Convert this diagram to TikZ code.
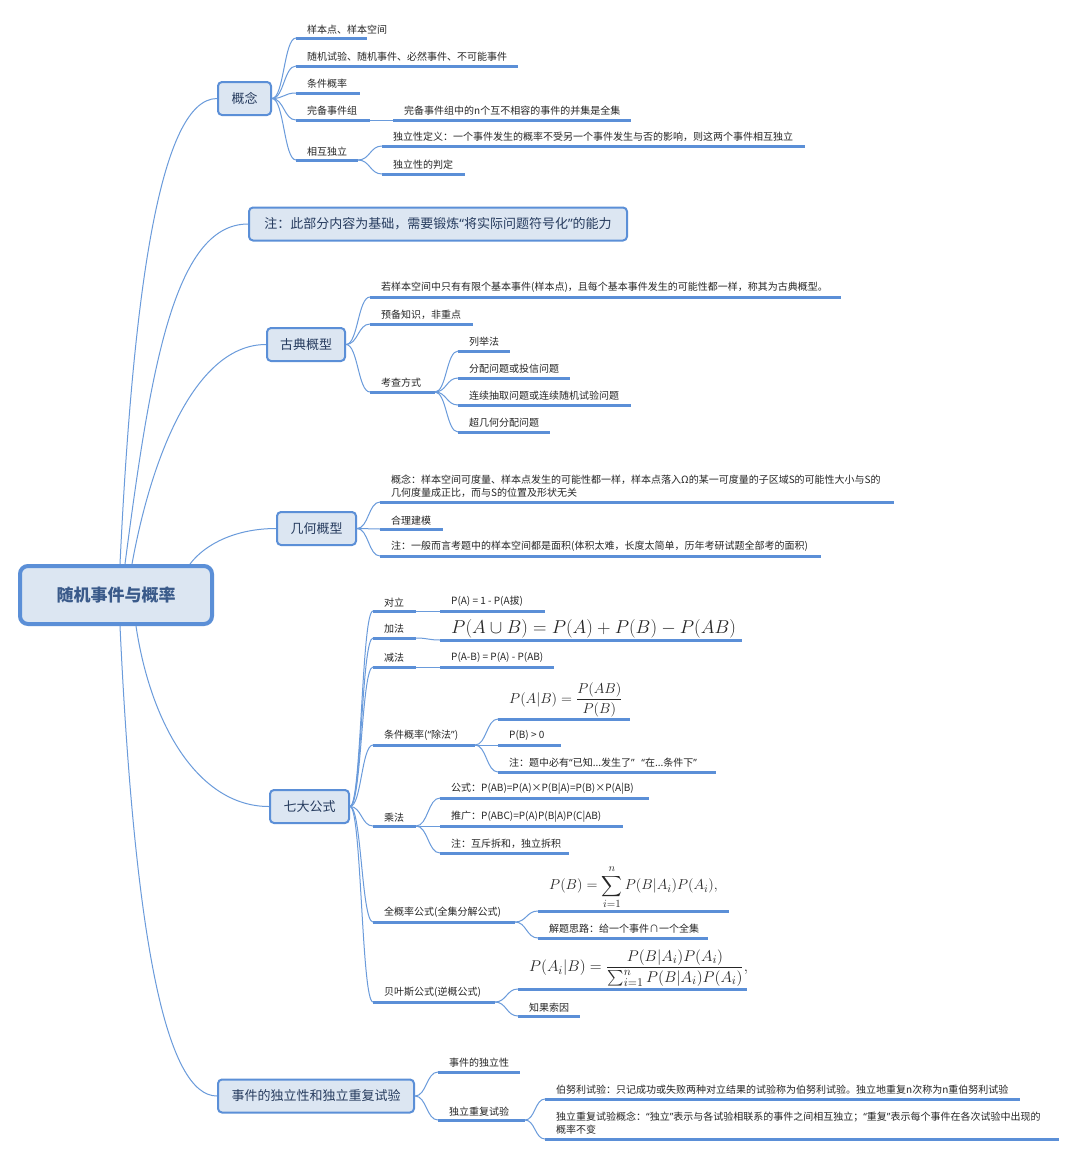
\documentclass[tikz,border=0pt]{standalone}
\usepackage{amsmath}
\usepackage{graphicx}
\usepackage{fontspec}
\setmainfont{Noto Sans CJK SC}
\newfontfamily\qfont{Noto Sans}
\newcommand\myql{{\qfont “}}
\newcommand\myqr{{\qfont ”}}
\usetikzlibrary{calc}
\definecolor{lc}{HTML}{5B8FD7}
\definecolor{cc}{HTML}{6A9BDB}
\definecolor{mf}{HTML}{DCE6F2}
\definecolor{mt}{HTML}{263B5E}
\definecolor{rt}{HTML}{3A5A8A}
\definecolor{lt}{HTML}{262626}
\tikzset{
 rootbox/.style={draw=lc, line width=4pt, fill=mf, rounded corners=8pt, minimum width=192pt, minimum height=58pt, font=\fontsize{17}{20}\selectfont\bfseries, text=rt, inner sep=0pt},
 mainbox/.style={draw=lc, line width=2pt, fill=mf, rounded corners=4pt, font=\fontsize{13}{15}\selectfont, text=mt, inner sep=0pt, minimum height=33pt},
 leaf/.style={anchor=south west, inner xsep=11pt, inner ysep=4pt, font=\fontsize{10}{13}\selectfont, text=lt},
 fleaf/.style={leaf, inner ysep=2pt},
 uline/.style={draw=lc, line width=3pt},
 conn/.style={draw=cc, line width=1pt},
 brk/.style={conn, to path={.. controls ($(\tikztostart)!0.5!(\tikztostart-|\tikztotarget)$) and ($(\tikztotarget)!0.5!(\tikztotarget-|\tikztostart)$) .. (\tikztotarget)}},
}
\newcommand\lf[6][leaf]{%
 \node[#1] (#2) at (#3,#4) {#6};
 \coordinate (#2e) at (#5,#4);
 \draw[uline] (#2.south west) -- (#2e);}
\begin{document}
\begin{tikzpicture}[x=1pt,y=-1pt]
\fill[white] (0,0) rectangle (1077,1157);
\path[use as bounding box] (0,0) rectangle (1077,1157);

% root and main topics
\node[rootbox] (root) at (116,595) {随机事件与概率};
\node[mainbox, minimum width=53pt] (gn) at (244.5,98.5) {概念};
\node[mainbox, minimum width=378pt] (zhu) at (438,224) {注：此部分内容为基础，需要锻炼\myql 将实际问题符号化\myqr 的能力};
\node[mainbox, minimum width=78pt] (gd) at (306,344.5) {古典概型};
\node[mainbox, minimum width=79pt] (jh) at (316.5,528.5) {几何概型};
\node[mainbox, minimum width=79pt] (qd) at (309.5,806.5) {七大公式};
\node[mainbox, minimum width=196pt] (sj) at (316,1096) {事件的独立性和独立重复试验};

\draw[conn] ([xshift=102pt]root.north west) .. controls +(12,-250) and +(-60,0) .. (gn.west);
\draw[conn] ([xshift=107pt]root.north west) .. controls +(25,-190) and +(-75,0) .. (zhu.west);
\draw[conn] ([xshift=114pt]root.north west) .. controls +(20,-110) and +(-70,0) .. (gd.west);
\draw[conn] ([xshift=172pt]root.north west) .. controls +(15,-20) and +(-40,0) .. (jh.west);
\draw[conn] ([xshift=118pt]root.south west) .. controls +(15,100) and +(-70,0) .. (qd.west);
\draw[conn] ([xshift=102pt]root.south west) .. controls +(15,320) and +(-50,0) .. (sj.west);

% 概念
\lf{a1}{296}{38}{367}{样本点、样本空间}
\lf{a2}{296}{66}{518}{随机试验、随机事件、必然事件、不可能事件}
\lf{a3}{296}{93}{360}{条件概率}
\lf{a4}{296}{120}{370}{完备事件组}
\lf{a4c}{393}{120}{631}{完备事件组中的n个互不相容的事件的并集是全集}
\lf{a5}{296}{160}{358}{相互独立}
\lf{a5a}{382}{146}{805}{独立性定义：一个事件发生的概率不受另一个事件发生与否的影响，则这两个事件相互独立}
\lf{a5b}{382}{174}{465}{独立性的判定}
\foreach \c in {a1,a2,a3,a4,a5} \draw[brk] (gn.east) to (\c.south west);
\draw[brk] (a4e) to (a4c.south west);
\draw[brk] (a5e) to (a5a.south west);
\draw[brk] (a5e) to (a5b.south west);

% 古典概型
\lf{b1}{370}{297}{841}{若样本空间中只有有限个基本事件(样本点)，且每个基本事件发生的可能性都一样，称其为古典概型。}
\lf{b2}{370}{324}{473}{预备知识，非重点}
\lf{b3}{370}{392}{435}{考查方式}
\lf{b3a}{458}{351}{510}{列举法}
\lf{b3b}{458}{378}{570}{分配问题或投信问题}
\lf{b3c}{458}{405}{631}{连续抽取问题或连续随机试验问题}
\lf{b3d}{458}{432}{550}{超几何分配问题}
\foreach \c in {b1,b2,b3} \draw[brk] (gd.east) to (\c.south west);
\foreach \c in {b3a,b3b,b3c,b3d} \draw[brk] (b3e) to (\c.south west);

% 几何概型
\lf[leaf, align=left]{c1}{380}{502}{894}{概念：样本空间可度量、样本点发生的可能性都一样，样本点落入Ω的某一可度量的子区域S的可能性大小与S的\\几何度量成正比，而与S的位置及形状无关}
\lf{c2}{380}{529}{443}{合理建模}
\lf{c3}{380}{556}{821}{注：一般而言考题中的样本空间都是面积(体积太难，长度太简单，历年考研试题全部考的面积)}
\foreach \c in {c1,c2,c3} \draw[brk] (jh.east) to (\c.south west);

% 七大公式
\lf{d1}{373}{611}{416}{对立}
\lf{d1c}{440}{611}{545}{P(A) = 1 - P(A拔)}
\lf{d2}{373}{638}{416}{加法}
\lf[fleaf]{d2c}{440}{640}{742}{\scalebox{1.08}{\fontsize{18.5}{20}\selectfont$P(A\cup B)=P(A)+P(B)-P(AB)$}}
\lf{d3}{373}{667}{416}{减法}
\lf{d3c}{440}{667}{554}{P(A-B) = P(A) - P(AB)}
\lf{d4}{373}{745}{475}{条件概率(\myql 除法\myqr)}
\lf[fleaf]{d4a}{498}{719}{630}{\fontsize{14}{16}\selectfont$P(A|B)=\dfrac{P(AB)}{P(B)}$}
\lf{d4b}{498}{745}{561}{P(B) > 0}
\lf{d4c}{498}{772}{716}{注：题中必有\myql 已知...发生了\myqr\ \ \ \myql 在...条件下\myqr}
\lf{d5}{373}{826}{416}{乘法}
\lf{d5a}{440}{798}{649}{公式：P(AB)=P(A)×P(B|A)=P(B)×P(A|B)}
\lf{d5b}{440}{826}{623}{推广：P(ABC)=P(A)P(B|A)P(C|AB)}
\lf{d5c}{440}{853}{569}{注：互斥拆和，独立拆积}
\lf{d6}{373}{922}{515}{全概率公式(全集分解公式)}
\lf[fleaf]{d6a}{538}{911}{729}{\fontsize{15}{17}\selectfont$\displaystyle P(B)=\sum_{i=1}^{n}P(B|A_i)P(A_i),$}
\lf{d6b}{538}{938}{708}{解题思路：给一个事件∩一个全集}
\lf{d7}{373}{1002}{495}{贝叶斯公式(逆概公式)}
\lf[fleaf]{d7a}{518}{989}{747}{\scalebox{1.08}{\fontsize{15}{18}\selectfont$P(A_i|B)=\dfrac{P(B|A_i)P(A_i)}{\sum_{i=1}^{n}P(B|A_i)P(A_i)},$}}
\lf{d7b}{518}{1016}{580}{知果索因}
\foreach \c in {d1,d2,d3,d4,d5,d6,d7} \draw[brk] (qd.east) to (\c.south west);
\draw[brk] (d1e) to (d1c.south west);
\draw[brk] (d2e) to (d2c.south west);
\draw[brk] (d3e) to (d3c.south west);
\foreach \c in {d4a,d4b,d4c} \draw[brk] (d4e) to (\c.south west);
\foreach \c in {d5a,d5b,d5c} \draw[brk] (d5e) to (\c.south west);
\foreach \c in {d6a,d6b} \draw[brk] (d6e) to (\c.south west);
\foreach \c in {d7a,d7b} \draw[brk] (d7e) to (\c.south west);

% 事件的独立性和独立重复试验
\lf{e1}{438}{1072}{520}{事件的独立性}
\lf{e2}{438}{1120}{525}{独立重复试验}
\lf{e2a}{545}{1099}{1020}{伯努利试验：只记成功或失败两种对立结果的试验称为伯努利试验。独立地重复n次称为n重伯努利试验}
\lf[leaf, align=left]{e2b}{545}{1139}{1059}{独立重复试验概念：\myql 独立\myqr 表示与各试验相联系的事件之间相互独立；\myql 重复\myqr 表示每个事件在各次试验中出现的\\概率不变}
\foreach \c in {e1,e2} \draw[brk] (sj.east) to (\c.south west);
\foreach \c in {e2a,e2b} \draw[brk] (e2e) to (\c.south west);
\end{tikzpicture}
\end{document}
